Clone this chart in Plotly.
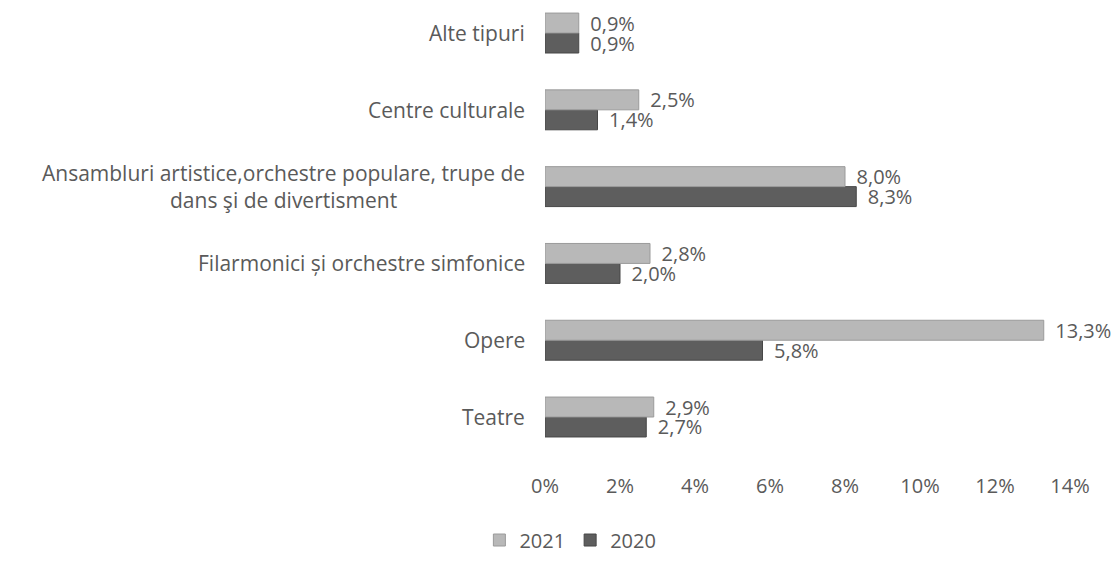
import plotly.graph_objects as go

categories = [
    "Teatre",
    "Opere",
    "Filarmonici și orchestre simfonice",
    "Ansambluri artistice,orchestre populare, trupe de<br>dans şi de divertisment",
    "Centre culturale",
    "Alte tipuri",
]
values_2021 = [2.9, 13.3, 2.8, 8.0, 2.5, 0.9]
values_2020 = [2.7, 5.8, 2.0, 8.3, 1.4, 0.9]
x_ticks = [0, 2, 4, 6, 8, 10, 12, 14]
x_tick_labels = [f"{v}%" for v in x_ticks]

FONT = "Open Sans"
SIZE = 20
TXT = "#5a5a5a"
GAP = "\u00a0\u2009"

fig = go.Figure()
fig.add_trace(go.Bar(
    y=categories, x=values_2020, name="2020", orientation="h",
    marker=dict(color="#5e5e5e", line=dict(color="#474747", width=1)),
    texttemplate=GAP + "%{x:.1f}%", textposition="outside", cliponaxis=False,
    constraintext="none",
    textfont=dict(family=FONT, size=SIZE, color=TXT),
))
fig.add_trace(go.Bar(
    y=categories, x=values_2021, name="2021", orientation="h",
    marker=dict(color="#b8b8b8", line=dict(color="#9a9a9a", width=1)),
    texttemplate=GAP + "%{x:.1f}%", textposition="outside", cliponaxis=False,
    constraintext="none",
    textfont=dict(family=FONT, size=SIZE, color=TXT),
))

for c in categories:
    fig.add_annotation(
        x=0, xref="paper", y=c, yref="y", text=c, showarrow=False,
        xanchor="right", align="center", xshift=-18,
        font=dict(family=FONT, size=21, color=TXT),
    )

fig.update_layout(
    width=1113, height=571,
    margin=dict(l=545, r=43, t=8, b=99),
    paper_bgcolor="white", plot_bgcolor="white",
    barmode="group", bargap=0.48, bargroupgap=0,
    separators=",.",
    font=dict(family=FONT, size=SIZE, color=TXT),
    showlegend=True,
    legend=dict(orientation="h", x=-0.125, xanchor="left", y=-0.1466, yanchor="middle",
                traceorder="reversed", font=dict(family=FONT, size=SIZE, color=TXT),
                itemwidth=30, tracegroupgap=0, bgcolor="rgba(0,0,0,0)"),
    xaxis=dict(range=[0, 14], tickmode="array", tickvals=x_ticks, ticktext=x_tick_labels,
               showgrid=False, zeroline=False, showline=False, ticks="",
               ticklabelstandoff=0,
               tickfont=dict(family=FONT, size=SIZE, color=TXT)),
    yaxis=dict(categoryorder="array", categoryarray=categories,
               range=[-0.716, 5.326], showticklabels=False, showgrid=False,
               zeroline=False, showline=False, ticks=""),
)

fig.write_html(
    "out.html",
    config={"displayModeBar": False},
    post_script="document.body.style.margin='0';document.body.style.overflow='hidden';",
)
